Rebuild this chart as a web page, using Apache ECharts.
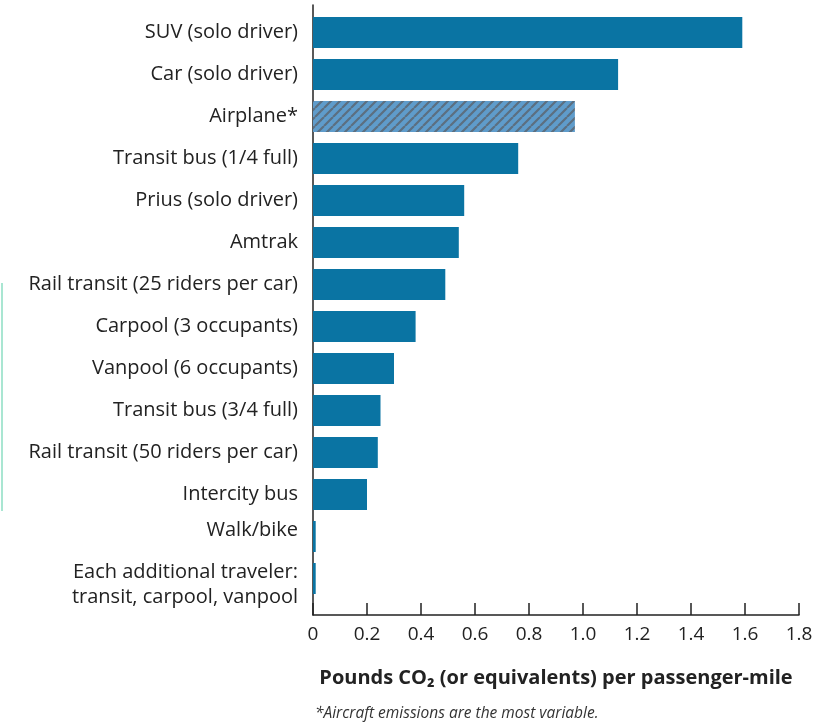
<!DOCTYPE html>
<html>
<head>
<meta charset="utf-8">
<script src="https://cdn.jsdelivr.net/npm/echarts@6/dist/echarts.min.js"></script>
<style>
  html, body {margin: 0; padding: 0; background: #fff;}
  #chart {width: 827px; height: 724px;}
</style>
</head>
<body>
<div id="chart"></div>
<script>
// modes of travel, top to bottom
const categories = [
  'SUV (solo driver)',
  'Car (solo driver)',
  'Airplane*',
  'Transit bus (1/4 full)',
  'Prius (solo driver)',
  'Amtrak',
  'Rail transit (25 riders per car)',
  'Carpool (3 occupants)',
  'Vanpool (6 occupants)',
  'Transit bus (3/4 full)',
  'Rail transit (50 riders per car)',
  'Intercity bus',
  'Walk/bike',
  'Each additional traveler:\ntransit, carpool, vanpool'
]
// pounds CO2 per passenger-mile
const values = [1.59, 1.13, 0.97, 0.76, 0.56, 0.54, 0.49, 0.38, 0.30, 0.25, 0.24, 0.20, 0.01, 0.01]
const hatched = ['Airplane*']
const tickLabels = ['0', '0.2', '0.4', '0.6', '0.8', '1.0', '1.2', '1.4', '1.6', '1.8']

const FONT = '"Open Sans", "Noto Sans", sans-serif'
const BAR = '#0a74a3'
const INK = '#222'

// striped fill for the airplane bar
function hatchPattern() {
  const c = document.createElement('canvas')
  c.width = 9
  c.height = 9
  const ctx = c.getContext('2d')
  ctx.fillStyle = '#5f9ccb'
  ctx.fillRect(0, 0, 9, 9)
  ctx.strokeStyle = '#5c6f80'
  ctx.lineWidth = 2.2
  ctx.beginPath()
  for (let k = -9; k <= 18; k += 9) {
    ctx.moveTo(k, 9)
    ctx.lineTo(k + 9, 0)
  }
  ctx.stroke()
  return c
}
const pattern = {image: hatchPattern(), repeat: 'repeat'}

// the two bottom labels sit a little off their bars in the original
function catLabel(v) {
  if (v === 'Walk/bike') return '{up|' + v + '}'
  if (v.includes('\n')) {
    const [a, b] = v.split('\n')
    return '{dn|' + a + '}\n{n|' + b + '}'
  }
  return v
}

const chart = echarts.init(document.getElementById('chart'))

chart.setOption({
  animation: false,
  backgroundColor: '#fff',
  // grid 0 holds the bars, grid 1 only draws the axes (a bit taller than the bars)
  grid: [
    {left: 313, right: 28, top: 11.5, bottom: 124.5},
    {left: 313, right: 28, top: 5, bottom: 109}
  ],
  xAxis: [
    {gridIndex: 0, type: 'value', min: 0, max: 1.8, show: false},
    {
      gridIndex: 1,
      type: 'value',
      min: 0,
      max: 1.8,
      interval: 0.2,
      splitLine: {show: false},
      axisLine: {show: true, lineStyle: {color: INK, width: 1.5}},
      axisTick: {show: true, inside: true, length: 12, lineStyle: {color: INK, width: 1.5}},
      axisLabel: {
        color: INK, fontFamily: FONT, fontSize: 19, margin: 10,
        formatter: v => tickLabels[Math.round(v / 0.2)]
      },
      name: 'Pounds CO\u2082 (or equivalents) per passenger-mile',
      nameLocation: 'middle',
      nameGap: 53,
      nameTextStyle: {color: INK, fontFamily: FONT, fontSize: 20, fontWeight: 'bold'}
    }
  ],
  yAxis: [
    {
      gridIndex: 0,
      type: 'category',
      data: categories,
      inverse: true,
      axisLine: {show: false},
      axisTick: {show: false},
      axisLabel: {
        interval: 0,
        hideOverlap: false,
        color: INK, fontFamily: FONT, fontSize: 20, margin: 15, lineHeight: 28,
        formatter: catLabel,
        rich: {
          up: {color: INK, fontFamily: FONT, fontSize: 20, lineHeight: 28, padding: [0, 0, 12, 0]},
          dn: {color: INK, fontFamily: FONT, fontSize: 20, lineHeight: 28, padding: [16, 0, 0, 0]},
          n: {color: INK, fontFamily: FONT, fontSize: 20, lineHeight: 28, padding: [9, 0, 0, 0]}
        }
      }
    },
    {
      gridIndex: 1,
      type: 'value',
      min: 0,
      max: 1,
      axisLine: {show: true, lineStyle: {color: INK, width: 1.5}},
      axisTick: {show: false},
      axisLabel: {show: false},
      splitLine: {show: false}
    }
  ],
  series: [{
    type: 'bar',
    xAxisIndex: 0,
    yAxisIndex: 0,
    barWidth: 31,
    data: values.map((v, i) => ({
      value: v,
      itemStyle: {color: hatched.includes(categories[i]) ? pattern : BAR}
    }))
  }],
  graphic: [
    {
      type: 'line',
      shape: {x1: 2, y1: 283, x2: 2, y2: 511},
      style: {stroke: '#a9e6d2', lineWidth: 2}
    },
    {
      type: 'text',
      left: 315,
      top: 706,
      style: {
        text: '*Aircraft emissions are the most variable.',
        fill: '#333', fontFamily: FONT, fontSize: 15.5, fontStyle: 'italic'
      }
    }
  ]
})
</script>
</body>
</html>
